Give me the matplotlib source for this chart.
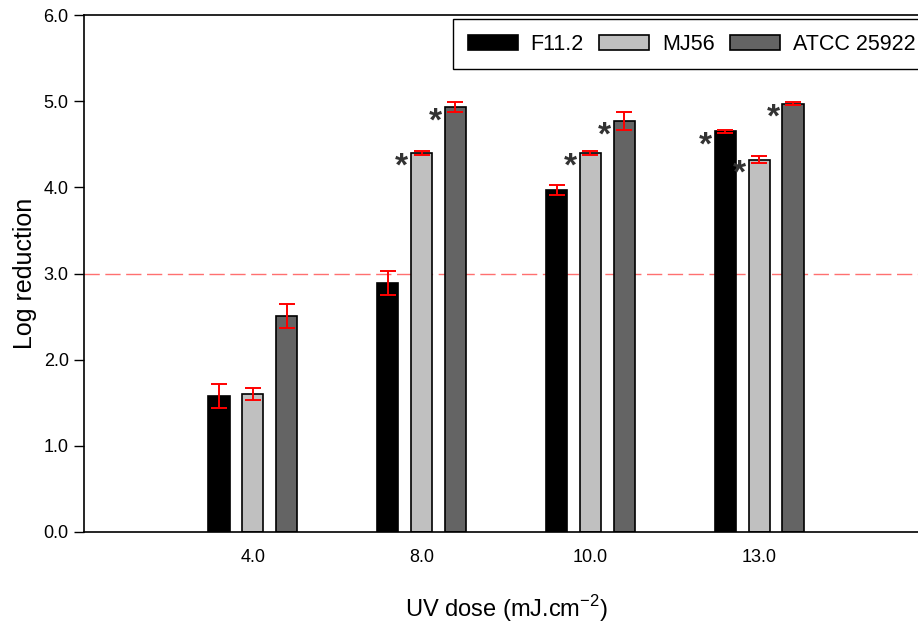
import numpy as np
import matplotlib
matplotlib.use("Agg")
import matplotlib.pyplot as plt

plt.rcParams['font.family'] = ['Liberation Sans', 'DejaVu Sans']

# doses UV e reduções logarítmicas por cepa
doses = ["4.0", "8.0", "10.0", "13.0"]
strains = ["F11.2", "MJ56", "ATCC 25922"]
f112 = [1.58, 2.89, 3.97, 4.65]
mj56 = [1.60, 4.40, 4.40, 4.32]
atcc = [2.51, 4.93, 4.77, 4.97]
f112_err = [0.14, 0.14, 0.06, 0.02]
mj56_err = [0.07, 0.02, 0.02, 0.04]
atcc_err = [0.14, 0.06, 0.10, 0.02]
# diferença significativa (asterisco)
f112_sig = [False, False, False, True]
mj56_sig = [False, True, True, True]
atcc_sig = [False, True, True, True]

colors = ["#000000", "#c0c0c0", "#646464"]

fig = plt.figure(figsize=(9.18, 6.23), dpi=100)
ax = fig.add_axes([84/918, 1-532/623, 844/918, 517/623])

x = np.arange(1, len(doses)+1)
w = 0.125
off = 0.2
series = [(f112, f112_err, f112_sig), (mj56, mj56_err, mj56_sig), (atcc, atcc_err, atcc_sig)]
for i, (vals, errs, sig) in enumerate(series):
    xs = x + (i-1)*off
    ax.bar(xs, vals, width=w, color=colors[i], edgecolor="black", linewidth=1.2,
           label=strains[i], zorder=2)
    ax.errorbar(xs, vals, yerr=errs, fmt="none", ecolor="red", elinewidth=1.4,
                capsize=6, capthick=1.4, zorder=3)
    for xx, v, s in zip(xs, vals, sig):
        if s:
            ax.text(xx - w/2 - 0.055, v - 0.17, "*", ha="center", va="center",
                    fontsize=24, color="#333333", fontweight="bold", zorder=4)

ax.axhline(3.0, color="#ff7070", linestyle=(0, (11, 4)), linewidth=1.0, zorder=1)

ax.set_xlim(0, 5)
ax.set_ylim(0, 6)
ax.set_xticks(x)
ax.set_xticklabels(doses, fontsize=13)
ax.tick_params(axis="x", length=0, pad=12)
ax.set_yticks(np.arange(0, 7, 1))
ax.set_yticklabels(["%.1f" % v for v in range(7)], fontsize=13)
ax.tick_params(axis="y", direction="out", length=7, width=1, pad=4)
for s in ax.spines.values():
    s.set_linewidth(1.2)

ax.set_xlabel("UV dose (mJ.cm$^{\\mathregular{-2}}$)", fontsize=17, labelpad=20)
ax.set_ylabel("Log reduction", fontsize=18, labelpad=5)

leg = fig.legend(loc="upper left", bbox_to_anchor=(453/918, 1-19/623), ncol=3,
                 fontsize=15.5, handlelength=2.33, handleheight=0.7,
                 columnspacing=0.7, handletextpad=0.6, borderpad=0.68,
                 borderaxespad=0, fancybox=False, framealpha=1, edgecolor="black")
leg.get_frame().set_linewidth(1.0)

fig.savefig("out.png", dpi=100)
